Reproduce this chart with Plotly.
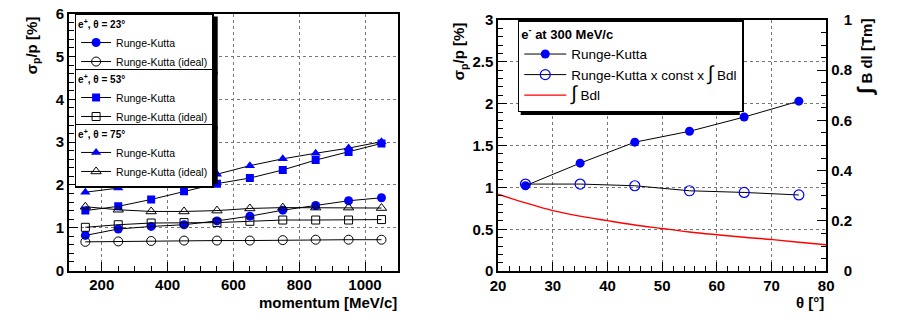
import plotly.graph_objects as go

# left panel: resolution vs momentum
momentum = [150, 250, 350, 450, 550, 650, 750, 850, 950, 1050]
rk_23 = [0.82, 0.97, 1.03, 1.07, 1.16, 1.27, 1.41, 1.52, 1.63, 1.70]
ideal_23 = [0.67, 0.68, 0.69, 0.70, 0.70, 0.70, 0.71, 0.72, 0.72, 0.72]
rk_53 = [1.40, 1.50, 1.66, 1.85, 2.03, 2.16, 2.35, 2.58, 2.77, 2.97]
ideal_53 = [1.01, 1.07, 1.11, 1.12, 1.12, 1.15, 1.18, 1.18, 1.18, 1.19]
rk_75 = [1.83, 1.93, 2.02, 2.10, 2.25, 2.45, 2.61, 2.74, 2.86, 3.01]
ideal_75 = [1.49, 1.42, 1.38, 1.38, 1.40, 1.45, 1.47, 1.47, 1.47, 1.46]

# right panel: resolution vs theta
theta = [25, 35, 45, 55, 65, 75]
rk_theta = [1.02, 1.29, 1.54, 1.67, 1.84, 2.03]
rk_scaled = [1.04, 1.04, 1.02, 0.96, 0.94, 0.91]
bdl_theta = [20, 25, 30, 35, 40, 45, 50, 55, 60, 65, 70, 75, 80]
bdl = [0.306, 0.272, 0.241, 0.219, 0.201, 0.184, 0.170, 0.156, 0.145, 0.135, 0.126, 0.115, 0.105]
bdl_ticks = [0, 0.2, 0.4, 0.6, 0.8, 1]
bdl_ticktext = ["\u2007\u20080", "0.2", "0.4", "0.6", "0.8", "\u2007\u20081"]

W, H = 899, 324
BLUE = "#0000ff"
FONT = "Liberation Sans, Arial, sans-serif"


def px_x(p):
    return p / W


def px_y(p):
    return 1 - p / H


fig = go.Figure()

groups = [
    ("legend", rk_23, ideal_23, "circle"),
    ("legend2", rk_53, ideal_53, "square"),
    ("legend3", rk_75, ideal_75, "triangle-up"),
]
for leg, rk, ideal, sym in groups:
    msize = 8 if sym == "square" else 9
    fig.add_trace(go.Scatter(
        x=momentum, y=rk, mode="lines+markers", name="Runge-Kutta",
        line=dict(color="black", width=1),
        marker=dict(symbol=sym, color=BLUE, size=msize),
        legend=leg, xaxis="x", yaxis="y"))
    fig.add_trace(go.Scatter(
        x=momentum, y=ideal, mode="lines+markers", name="Runge-Kutta (ideal)",
        line=dict(color="black", width=1),
        marker=dict(symbol=sym + "-open", color="black", size=msize, line=dict(width=1)),
        legend=leg, xaxis="x", yaxis="y"))

fig.add_trace(go.Scatter(
    x=theta, y=rk_theta, mode="lines+markers", name="Runge-Kutta",
    line=dict(color="black", width=1),
    marker=dict(symbol="circle", color=BLUE, size=9),
    legend="legend4", xaxis="x2", yaxis="y2"))
fig.add_trace(go.Scatter(
    x=theta, y=rk_scaled, mode="lines+markers",
    name="Runge-Kutta x const x <span style='font-size:20px'>∫</span> Bdl",
    line=dict(color="black", width=1),
    marker=dict(symbol="circle-open", color=BLUE, size=10, line=dict(width=1.2)),
    legend="legend4", xaxis="x2", yaxis="y2"))
fig.add_trace(go.Scatter(
    x=bdl_theta, y=bdl, mode="lines", name="<span style='font-size:20px'>∫</span> Bdl",
    line=dict(color="red", width=1.4, shape="spline"),
    legend="legend4", xaxis="x2", yaxis="y3"))

tickfont = dict(family=FONT, size=15, color="black", weight="bold")
axis_common = dict(
    showline=True, linecolor="black", linewidth=1.5, mirror=True,
    ticks="inside", tickcolor="black", ticklen=9, tickwidth=1,
    showgrid=True, gridcolor="#777", griddash="dot", gridwidth=1,
    zeroline=False, tickfont=tickfont,
)

fig.update_layout(
    width=W, height=H, margin=dict(l=0, r=0, t=0, b=0),
    paper_bgcolor="white", plot_bgcolor="white",
    xaxis=dict(domain=[px_x(62), px_x(397)], range=[100, 1100], dtick=200, tick0=0,
               minor=dict(ticks="inside", dtick=50, ticklen=5, tickcolor="black"),
               anchor="y", **axis_common),
    yaxis=dict(domain=[px_y(276), px_y(5)], range=[0, 6], dtick=1,
               minor=dict(ticks="inside", dtick=0.2, ticklen=5, tickcolor="black"),
               anchor="x", **axis_common),
    xaxis2=dict(domain=[px_x(499), px_x(833)], range=[20, 80], dtick=10,
                minor=dict(ticks="inside", dtick=2, ticklen=5, tickcolor="black"),
                anchor="y2", **axis_common),
    yaxis2=dict(domain=[px_y(276.7), px_y(11.5)], range=[0, 3], dtick=0.5,
                minor=dict(ticks="inside", dtick=0.1, ticklen=5, tickcolor="black"),
                anchor="x2", **axis_common),
    yaxis3=dict(range=[0, 1], tickvals=bdl_ticks, ticktext=bdl_ticktext,
                overlaying="y2", side="right", anchor="x2",
                showgrid=False, zeroline=False, ticks="inside", ticklen=9,
                tickcolor="black", tickfont=tickfont, ticklabelstandoff=4,
                minor=dict(ticks="inside", dtick=0.05, ticklen=5, tickcolor="black")),
    showlegend=True,
)

leg_font = dict(family=FONT, size=10.5, color="black")
titles = ["23", "53", "75"]
tops = [5, 63, 121]
for i, (name, t) in enumerate(zip(["legend", "legend2", "legend3"], titles)):
    fig.update_layout({name: dict(
        x=px_x(68), y=px_y(tops[i]), xanchor="left", yanchor="top",
        bgcolor="white", bordercolor="black", borderwidth=1.3,
        font=leg_font, tracegroupgap=0, itemwidth=30,
        title=dict(text="<b>e<sup>+</sup>, θ = " + t + "°</b>",
                   font=dict(family=FONT, size=10, color="black")),
    )})
    fig.add_shape(type="rect", xref="paper", yref="paper", layer="above",
                  x0=px_x(71), x1=px_x(213.5), y0=px_y(tops[i] + 3), y1=px_y(tops[i] + 64),
                  fillcolor="black", line=dict(width=0))

fig.update_layout(legend4=dict(
    x=px_x(519), y=px_y(12), xanchor="left", yanchor="top",
    bgcolor="white", bordercolor="black", borderwidth=1.5,
    font=dict(family=FONT, size=13.5, color="black"), itemwidth=42,
    title=dict(text="<b>e<sup>-</sup> at 300 MeV/c</b>", font=dict(family=FONT, size=13)),
))
fig.add_shape(type="rect", xref="paper", yref="paper", layer="above",
              x0=px_x(522), x1=px_x(745), y0=px_y(15), y1=px_y(112),
              fillcolor="black", line=dict(width=0))

title_font = dict(family=FONT, size=15, color="black", weight="bold")
fig.add_annotation(text="σ<sub>p</sub>/p [%]", x=px_x(25), y=px_y(6), xref="paper", yref="paper",
                   textangle=-90, xanchor="center", yanchor="top", showarrow=False, font=title_font)
fig.add_annotation(text="σ<sub>p</sub>/p [%]", x=px_x(460), y=px_y(12), xref="paper", yref="paper",
                   textangle=-90, xanchor="center", yanchor="top", showarrow=False, font=title_font)
fig.add_annotation(text="<span style='font-size:21px'>∫</span> B dl [Tm]", x=px_x(873), y=px_y(8),
                   xref="paper", yref="paper", textangle=-90, xanchor="center", yanchor="top",
                   showarrow=False, font=title_font)
fig.add_annotation(text="momentum [MeV/c]", x=px_x(398), y=px_y(310), xref="paper", yref="paper",
                   xanchor="right", yanchor="middle", showarrow=False, font=title_font)
fig.add_annotation(text="θ [°]", x=px_x(833), y=px_y(310), xref="paper", yref="paper",
                   xanchor="right", yanchor="middle", showarrow=False, font=title_font)

fig.write_html("out.html", config={"displayModeBar": False},
               post_script="document.body.style.margin='0';document.body.style.overflow='hidden';")
